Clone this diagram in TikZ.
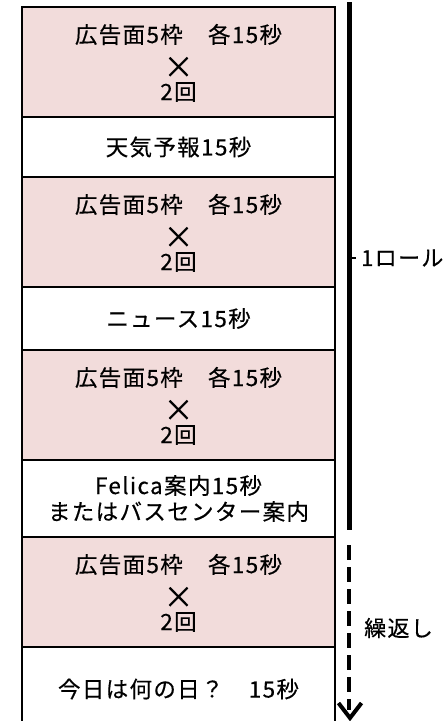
\documentclass[tikz,border=0pt]{standalone}
\usepackage{fontspec}
\setmainfont{Noto Sans CJK JP}[LetterSpace=6, FakeBold=0.4]
\definecolor{adpink}{HTML}{F2DCDB}
\newcommand{\adblock}[2]{%
  \node[adbox, minimum height=110pt] (#1) at (178.5,#2) {};
  \node[txt] (#1a) at (178.5,#2-27.5) {広告面5枠　各15秒};
  \node[txt, font=\fontsize{30}{30}\selectfont] (#1b) at (178.5,#2+5.5) {×};
  \node[txt] (#1c) at (178.5,#2+30) {2回};}
\begin{document}
\begin{tikzpicture}[x=1pt,y=-1pt,
  box/.style={draw=black, line width=1.8pt, minimum width=313pt, inner sep=0pt, align=center,
    font=\fontsize{22.5}{28}\selectfont},
  adbox/.style={box, fill=adpink},
  plainbox/.style={box, fill=white},
  txt/.style={inner sep=0pt, align=center, font=\fontsize{22.5}{26}\selectfont},
  sidelabel/.style={anchor=west, inner sep=0pt, font=\fontsize{22}{24}\selectfont}]
\useasboundingbox (0,0) rectangle (443,721);
\fill[white] (0,0) rectangle (443,721);
\adblock{b1}{62}
\node[plainbox, minimum height=60pt] (b2) at (178.5,147) {天気予報15秒};
\adblock{b3}{232}
\node[plainbox, minimum height=63pt] (b4) at (178.5,318.5) {ニュース15秒};
\adblock{b5}{405}
\node[plainbox, minimum height=77pt, font=\fontsize{22.5}{26}\selectfont] (b6) at (178.5,498.5) {Felica案内15秒\\またはバスセンター案内};
\adblock{b7}{592}
\node[plainbox, minimum height=100pt] (b8) at (178.5,697) {};
\node[txt] (t8) at (178.5,689) {今日は何の日？　15秒};
% roll marker
\coordinate (r0) at (349,2);
\coordinate (r1) at (349,530);
\coordinate (d0) at (349,545);
\coordinate (d1) at (350,718);
\coordinate (dend) at (349,710);
\coordinate (tick0) at (349,258);
\coordinate (tick1) at (356,258);
\coordinate (v1) at (338.5,703);
\coordinate (v2) at (361.5,703);
\draw[line width=5pt] (r0) -- (r1);
\draw[line width=1.5pt] (tick0) -- (tick1);
\node[sidelabel] (roll) at (361,258) {1ロール};
\draw[line width=4.5pt, dash pattern=on 15pt off 7pt] (d0) -- (dend);
\draw[line width=4pt, line join=miter] (v1) -- (d1) -- (v2);
\node[sidelabel] (rep) at (364,628) {繰返し};
\end{tikzpicture}
\end{document}
